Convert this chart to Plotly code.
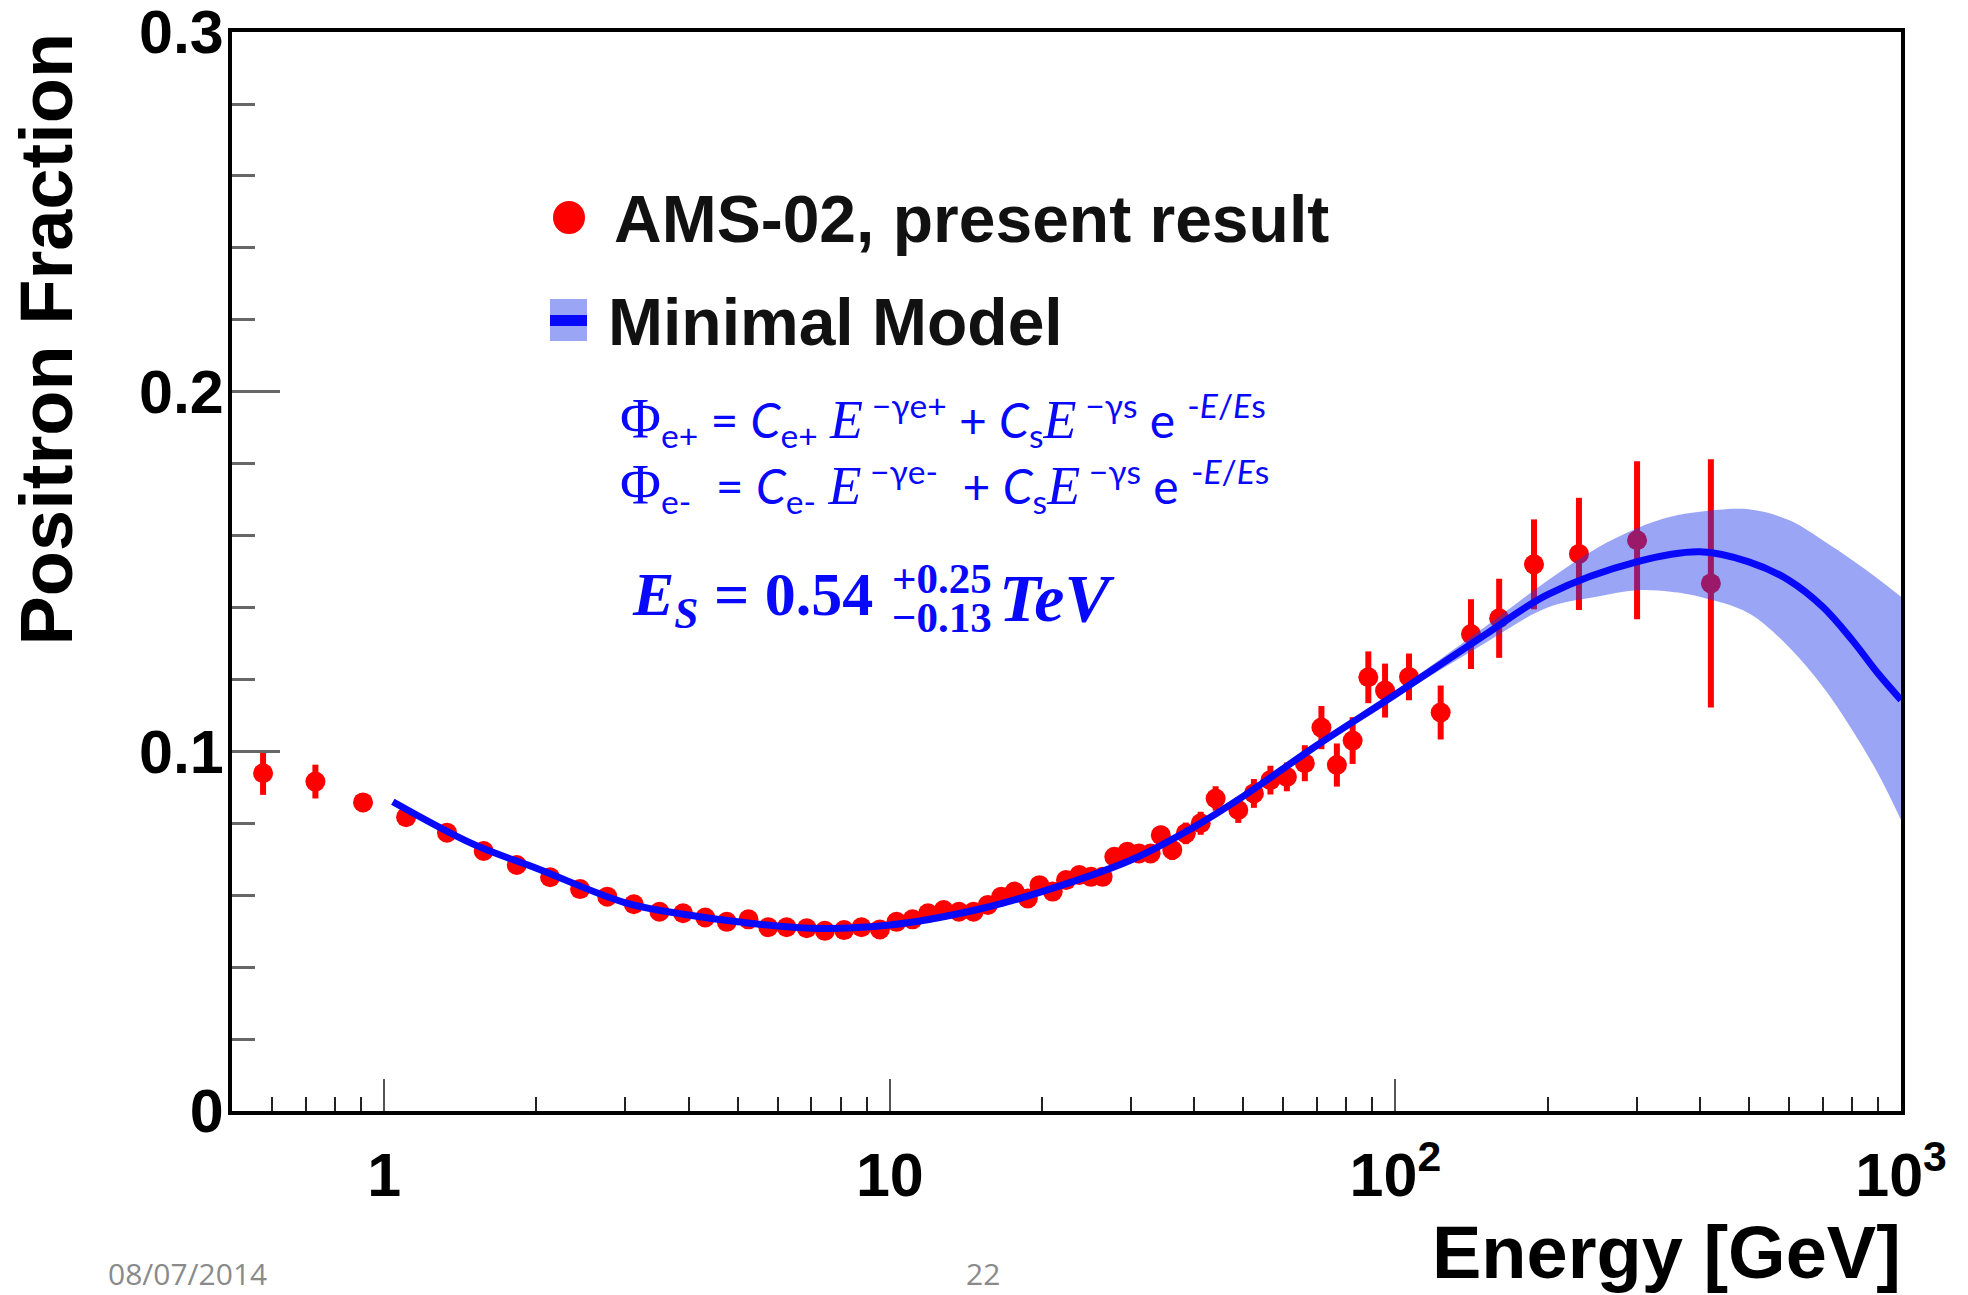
import plotly.graph_objects as go

# ---------------- data ----------------
energy = [0.576, 0.731, 0.908, 1.105, 1.331, 1.573, 1.829, 2.129, 2.44, 2.762,
          3.117, 3.503, 3.9, 4.315, 4.76, 5.254, 5.75, 6.25, 6.85, 7.44,
          8.12, 8.79, 9.56, 10.31, 11.09, 11.9, 12.78, 13.7, 14.64, 15.63,
          16.61, 17.65, 18.75, 19.77, 21.0, 22.31, 23.7, 25.0, 26.36, 27.8,
          29.5, 31.1, 32.8, 34.36, 36.2, 38.5, 41.2, 44.1, 48.9, 52.5,
          56.6, 61.0, 66.2, 71.4, 76.6, 82.3, 88.4, 95.4, 106.4, 122.9,
          141.1, 160.4, 188.0, 230.7, 300.6, 420.7]
fraction = [0.0939, 0.0916, 0.0858, 0.0817, 0.0774, 0.0723, 0.0684, 0.0650, 0.0617, 0.0596,
            0.0575, 0.0554, 0.0550, 0.0538, 0.0526, 0.0533, 0.0511, 0.0511, 0.0508, 0.0501,
            0.0503, 0.0511, 0.0505, 0.0526, 0.0533, 0.0550, 0.0559, 0.0554, 0.0554, 0.0573,
            0.0596, 0.0610, 0.0591, 0.0628, 0.0610, 0.0642, 0.0656, 0.0651, 0.0651, 0.0707,
            0.0721, 0.0716, 0.0716, 0.0767, 0.0726, 0.0772, 0.0800, 0.0869, 0.0837, 0.0883,
            0.0920, 0.0929, 0.0967, 0.1066, 0.0962, 0.1030, 0.1206, 0.1169, 0.1207, 0.1108,
            0.1326, 0.1370, 0.1520, 0.1549, 0.1587, 0.1467]
fraction_err = [0.0060, 0.0047, 0.0020, 0.0015, 0.0012, 0.0010, 0.0010, 0.0010, 0.0010, 0.0010,
                0.0010, 0.0010, 0.0010, 0.0010, 0.0010, 0.0010, 0.0010, 0.0010, 0.0010, 0.0010,
                0.0010, 0.0010, 0.0010, 0.0010, 0.0010, 0.0010, 0.0010, 0.0012, 0.0012, 0.0012,
                0.0013, 0.0013, 0.0014, 0.0015, 0.0015, 0.0016, 0.0017, 0.0018, 0.0019, 0.0020,
                0.0022, 0.0023, 0.0025, 0.0026, 0.0028, 0.0030, 0.0032, 0.0034, 0.0036, 0.0040,
                0.0040, 0.0040, 0.0050, 0.0060, 0.0060, 0.0065, 0.0072, 0.0075, 0.0065, 0.0075,
                0.0097, 0.0110, 0.0125, 0.0156, 0.0220, 0.0345]

model_E = [1.04, 1.5, 2, 3, 4, 5, 7, 10, 15, 20, 30, 40, 50, 70, 100, 150, 200, 300, 400, 500,
           600, 700, 800, 900, 1000]
model_mid = [0.0860, 0.0742, 0.0675, 0.0579, 0.0545, 0.0526, 0.0508, 0.0517, 0.0561, 0.0610,
             0.0698, 0.0790, 0.0875, 0.1017, 0.1158, 0.1323, 0.1436, 0.1527, 0.1555, 0.1527,
             0.1476, 0.1402, 0.1310, 0.1217, 0.1143]

band_E = [50, 70, 100, 150, 200, 250, 300, 350, 400, 500, 600, 700, 800, 900, 1000]
band_lo = [0.0869, 0.1010, 0.1150, 0.1300, 0.1400, 0.1430, 0.1448, 0.1444, 0.1430, 0.1384,
           0.1290, 0.1180, 0.1060, 0.0939, 0.0809]
band_hi = [0.0881, 0.1024, 0.1168, 0.1345, 0.1475, 0.1565, 0.1620, 0.1652, 0.1666, 0.1673,
           0.1643, 0.1587, 0.1532, 0.1480, 0.1430]

x_tickvals = [1, 10, 100, 1000]
x_ticktext = ["1", "10", "10<sup>2</sup>", "10<sup>3</sup>"]
x_minor = [0.6, 0.7, 0.8, 0.9, 2, 3, 4, 5, 6, 7, 8, 9, 20, 30, 40, 50, 60, 70, 80, 90,
           200, 300, 400, 500, 600, 700, 800, 900]
y_tickvals = [0, 0.1, 0.2, 0.3]
y_ticktext = ["0", "0.1", "0.2", "0.3"]
y_minor = [0.02, 0.04, 0.06, 0.08, 0.12, 0.14, 0.16, 0.18, 0.22, 0.24, 0.26, 0.28]

# ---------------- figure ----------------
W, H = 1968, 1295
L, R, T, B = 232, 67, 32, 184
PW, PH = W - L - R, H - T - B


def px(x):
    return (x - L) / PW


def py(y):
    return (H - B - y) / PH


RED = "rgb(255,0,0)"
BLUE = "rgb(8,8,250)"
BAND = "rgba(33,55,233,0.45)"
SANS = "Liberation Sans"
SERIF = "Liberation Serif"

fig = go.Figure()

fig.add_trace(go.Scatter(
    x=energy, y=fraction, mode="markers",
    marker=dict(color=RED, size=20, line=dict(width=0)),
    error_y=dict(type="data", array=fraction_err, color=RED, thickness=6, width=0),
    showlegend=False, hoverinfo="skip"))

fig.add_trace(go.Scatter(
    x=band_E, y=band_lo, mode="lines",
    line=dict(width=0, shape="spline", color=BAND),
    showlegend=False, hoverinfo="skip"))
fig.add_trace(go.Scatter(
    x=band_E, y=band_hi, mode="lines", fill="tonexty", fillcolor=BAND,
    line=dict(width=0, shape="spline", color=BAND),
    showlegend=False, hoverinfo="skip"))

fig.add_trace(go.Scatter(
    x=model_E, y=model_mid, mode="lines",
    line=dict(color=BLUE, width=7, shape="spline", smoothing=1.0),
    showlegend=False, hoverinfo="skip"))

tickfont = dict(family=SANS, size=61, color="black", weight="bold")

fig.update_xaxes(
    type="log", range=[-0.30103, 3.0],
    showline=True, linecolor="black", linewidth=4, mirror=True,
    showgrid=False, zeroline=False,
    tickmode="array", tickvals=x_tickvals, ticktext=x_ticktext,
    ticks="inside", ticklen=32, tickwidth=2, tickcolor="#555",
    tickfont=tickfont, ticklabelstandoff=8, ticklabeloverflow="allow",
    minor=dict(tickmode="array", tickvals=x_minor, ticks="inside",
               ticklen=14, tickwidth=2, tickcolor="#222", showgrid=False),
)
fig.update_yaxes(
    range=[0, 0.30002],
    showline=True, linecolor="black", linewidth=4, mirror=True,
    showgrid=False, zeroline=False,
    tickmode="array", tickvals=y_tickvals, ticktext=y_ticktext,
    ticks="inside", ticklen=48, tickwidth=3, tickcolor="#666",
    tickfont=tickfont, ticklabelstandoff=-8, ticklabeloverflow="allow",
    minor=dict(tickmode="array", tickvals=y_minor, ticks="inside",
               ticklen=23, tickwidth=3, tickcolor="#666", showgrid=False),
)

ann = []
# axis titles
ann.append(dict(text="<b>Positron Fraction</b>", x=px(46), y=py(31), xref="paper", yref="paper",
                xanchor="center", yanchor="top", textangle=-90, showarrow=False,
                font=dict(family=SANS, size=74, color="black")))
ann.append(dict(text="<b>Energy [GeV]</b>", x=px(1903), y=py(1252), xref="paper", yref="paper",
                xanchor="right", yanchor="middle", showarrow=False,
                font=dict(family=SANS, size=74, color="black")))
# legend
ann.append(dict(text="<b>AMS-02, present result</b>", x=px(612), y=py(219), xref="paper", yref="paper",
                xanchor="left", yanchor="middle", showarrow=False,
                font=dict(family=SANS, size=66, color="#111")))
ann.append(dict(text="<b>Minimal Model</b>", x=px(606), y=py(322), xref="paper", yref="paper",
                xanchor="left", yanchor="middle", showarrow=False,
                font=dict(family=SANS, size=66, color="#111")))
# formulas
phi = "<span style='font-family:%s;font-size:56px'>Φ</span>" % SERIF
EE = "<span style='font-family:%s;font-size:54px'><i>E</i></span>" % SERIF
line1 = (phi + "<sub>e+</sub> = <i>C</i><sub>e+</sub> " + EE + "<sup> −γe+</sup> + <i>C</i><sub>s</sub>"
         + EE + "<sup> −γs</sup> e <sup>-<i>E</i>/<i>E</i>s</sup>")
line2 = (phi + "<sub>e-</sub>  = <i>C</i><sub>e-</sub> " + EE + "<sup> −γe-</sup>  + <i>C</i><sub>s</sub>"
         + EE + "<sup> −γs</sup> e <sup>-<i>E</i>/<i>E</i>s</sup>")
ann.append(dict(text=line1, x=px(618), y=py(420), xref="paper", yref="paper",
                xanchor="left", yanchor="middle", showarrow=False,
                font=dict(family="Lato", size=48, color=BLUE)))
ann.append(dict(text=line2, x=px(618), y=py(486), xref="paper", yref="paper",
                xanchor="left", yanchor="middle", showarrow=False,
                font=dict(family="Lato", size=48, color=BLUE)))
# E_S
ann.append(dict(text="<b><i>E<sub>S</sub></i> = 0.54</b>", x=px(630), y=py(598), xref="paper", yref="paper",
                xanchor="left", yanchor="middle", showarrow=False,
                font=dict(family=SERIF, size=62, color=BLUE)))
ann.append(dict(text="<b>+0.25</b>", x=px(890), y=py(578), xref="paper", yref="paper",
                xanchor="left", yanchor="middle", showarrow=False,
                font=dict(family=SERIF, size=43, color=BLUE)))
ann.append(dict(text="<b>−0.13</b>", x=px(890), y=py(617), xref="paper", yref="paper",
                xanchor="left", yanchor="middle", showarrow=False,
                font=dict(family=SERIF, size=43, color=BLUE)))
ann.append(dict(text="<b><i>TeV</i></b>", x=px(997), y=py(598), xref="paper", yref="paper",
                xanchor="left", yanchor="middle", showarrow=False,
                font=dict(family=SERIF, size=68, color=BLUE)))
# footer
ann.append(dict(text="08/07/2014", x=px(106), y=py(1273), xref="paper", yref="paper",
                xanchor="left", yanchor="middle", showarrow=False,
                font=dict(family="Open Sans", size=30, color="#8a8a8a")))
ann.append(dict(text="22", x=px(983), y=py(1273), xref="paper", yref="paper",
                xanchor="center", yanchor="middle", showarrow=False,
                font=dict(family="Open Sans", size=30, color="#8a8a8a")))

shapes = [
    dict(type="circle", xref="paper", yref="paper", x0=px(553), x1=px(585), y0=py(201), y1=py(234),
         fillcolor=RED, line=dict(width=0)),
    dict(type="rect", xref="paper", yref="paper", x0=px(550), x1=px(587), y0=py(299), y1=py(341),
         fillcolor=BAND, line=dict(width=0)),
    dict(type="rect", xref="paper", yref="paper", x0=px(550), x1=px(587), y0=py(315), y1=py(326),
         fillcolor=BLUE, line=dict(width=0)),
]

fig.update_layout(
    width=W, height=H, margin=dict(l=L, r=R, t=T, b=B, autoexpand=False),
    paper_bgcolor="white", plot_bgcolor="white",
    annotations=ann, shapes=shapes, showlegend=False,
)

fig.write_html("out.html")
